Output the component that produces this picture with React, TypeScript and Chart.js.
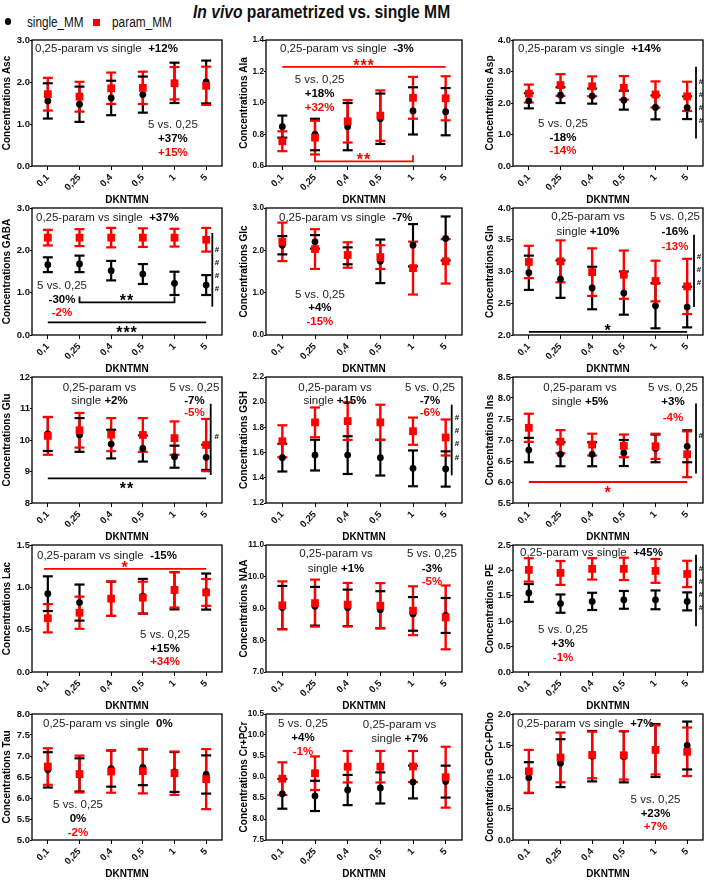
import React, { useEffect, useRef } from 'react';
import { Chart, registerables } from 'chart.js';

Chart.register(...registerables);

const FONT = '"Liberation Sans", Arial, Helvetica, sans-serif';
Chart.defaults.font.family = FONT;

const RED = '#ff0000';
const BLACK = '#000000';
const TXT = '#222222';

// x categories (DKNTMN)
const doses = ['0,1', '0,25', '0,4', '0,5', '1', '5'];

// ---- data: mean and SD per dose, single_MM (black) and param_MM (red) ----
const ascSingle = [1.55, 1.47, 1.62, 1.7, 1.98, 2.0];
const ascSingleSd = [0.42, 0.42, 0.41, 0.43, 0.48, 0.51];
const ascParam = [1.71, 1.65, 1.85, 1.86, 1.97, 1.91];
const ascParamSd = [0.39, 0.355, 0.375, 0.385, 0.385, 0.455];

const alaSingle = [0.85, 0.8, 0.85, 0.9, 0.95, 0.945];
const alaSingleSd = [0.07, 0.1, 0.15, 0.16, 0.15, 0.15];
const alaParam = [0.757, 0.78, 0.884, 0.92, 1.033, 1.03];
const alaParamSd = [0.063, 0.107, 0.135, 0.16, 0.133, 0.14];

const aspSingle = [2.07, 2.25, 2.22, 2.09, 1.86, 1.85];
const aspSingleSd = [0.24, 0.25, 0.24, 0.3, 0.38, 0.36];
const aspParam = [2.3, 2.57, 2.53, 2.48, 2.27, 2.21];
const aspParamSd = [0.285, 0.345, 0.315, 0.375, 0.415, 0.465];

const gabaSingle = [1.66, 1.68, 1.52, 1.44, 1.22, 1.18];
const gabaSingleSd = [0.175, 0.195, 0.23, 0.235, 0.275, 0.235];
const gabaParam = [2.3, 2.3, 2.3, 2.3, 2.3, 2.25];
const gabaParamSd = [0.185, 0.2, 0.23, 0.22, 0.21, 0.28];

const glcSingle = [2.12, 2.2, 1.87, 1.74, 2.12, 2.28];
const glcSingleSd = [0.215, 0.16, 0.2, 0.515, 0.5, 0.52];
const glcParam = [2.2, 2.03, 1.89, 1.84, 1.58, 1.74];
const glcParamSd = [0.455, 0.47, 0.3, 0.28, 0.625, 0.525];

const glnSingle = [2.98, 2.88, 2.74, 2.66, 2.46, 2.44];
const glnSingleSd = [0.27, 0.295, 0.335, 0.34, 0.355, 0.32];
const glnParam = [3.15, 3.16, 2.99, 2.95, 2.85, 2.765];
const glnParamSd = [0.255, 0.33, 0.375, 0.38, 0.32, 0.435];

const gluSingle = [10.19, 10.16, 9.87, 9.73, 9.47, 9.45];
const gluSingleSd = [0.54, 0.535, 0.455, 0.415, 0.35, 0.4];
const gluParam = [10.13, 10.31, 10.17, 10.16, 10.06, 9.84];
const gluParamSd = [0.6, 0.55, 0.525, 0.535, 0.53, 0.83];

const gshSingle = [1.56, 1.58, 1.58, 1.56, 1.475, 1.47];
const gshSingleSd = [0.11, 0.122, 0.15, 0.142, 0.142, 0.14];
const gshParam = [1.69, 1.84, 1.85, 1.84, 1.77, 1.72];
const gshParamSd = [0.127, 0.118, 0.15, 0.14, 0.108, 0.143];

const insSingle = [6.76, 6.66, 6.66, 6.69, 6.8, 6.85];
const insSingleSd = [0.29, 0.285, 0.285, 0.31, 0.33, 0.38];
const insParam = [7.29, 6.96, 6.89, 6.86, 6.85, 6.66];
const insParamSd = [0.335, 0.275, 0.26, 0.27, 0.3, 0.545];

const lacSingle = [0.925, 0.82, 0.865, 0.895, 0.96, 0.95];
const lacSingleSd = [0.205, 0.213, 0.203, 0.205, 0.22, 0.213];
const lacParam = [0.635, 0.7, 0.866, 0.878, 0.97, 0.94];
const lacParamSd = [0.167, 0.19, 0.203, 0.188, 0.208, 0.158];

const naaSingle = [9.03, 9.07, 9.02, 8.96, 8.83, 8.78];
const naaSingleSd = [0.68, 0.61, 0.575, 0.585, 0.53, 0.55];
const naaParam = [9.1, 9.17, 9.12, 9.09, 8.93, 8.72];
const naaParamSd = [0.755, 0.74, 0.685, 0.71, 0.77, 1.005];

const peSingle = [1.556, 1.346, 1.39, 1.42, 1.42, 1.39];
const peSingleSd = [0.175, 0.18, 0.17, 0.175, 0.185, 0.177];
const peParam = [2.01, 1.95, 2.03, 2.03, 1.99, 1.93];
const peParamSd = [0.23, 0.235, 0.21, 0.22, 0.235, 0.26];

const tauSingle = [6.67, 6.55, 6.7, 6.73, 6.62, 6.56];
const tauSingleSd = [0.42, 0.395, 0.43, 0.425, 0.475, 0.455];
const tauParam = [6.75, 6.57, 6.63, 6.64, 6.59, 6.45];
const tauParamSd = [0.435, 0.44, 0.505, 0.53, 0.515, 0.715];

const crSingle = [8.6, 8.55, 8.69, 8.74, 8.88, 8.89];
const crSingleSd = [0.355, 0.36, 0.36, 0.37, 0.39, 0.38];
const crParam = [8.96, 9.09, 9.245, 9.245, 9.25, 8.995];
const crParamSd = [0.39, 0.4, 0.375, 0.375, 0.37, 0.725];

const gpcSingle = [0.99, 1.22, 1.33, 1.32, 1.42, 1.5];
const gpcSingleSd = [0.245, 0.38, 0.4, 0.405, 0.42, 0.38];
const gpcParam = [1.09, 1.31, 1.35, 1.345, 1.43, 1.4];
const gpcParamSd = [0.34, 0.395, 0.37, 0.385, 0.39, 0.385];

// ---- annotation helpers (positions in data units: x = category index, y = value) ----
type Part = { t: string; b?: boolean; c?: string };
type Txt = { x: number; y: number; parts: Part[]; align: 'left' | 'center' };
type Sig = { x1: number; x2: number; y: number; color: string; stars: string; below?: boolean; ends?: boolean };
type Hash = { x: number; y1: number; y2: number; hx: number; marks: number[] };

const hdr = (x: number, y: number, pct: string): Txt[] => [
  { x, y, align: 'left', parts: [{ t: '0,25-param vs single  ' }, { t: pct, b: true }] },
];
const hdr2 = (x: number, y0: number, y1: number, pct: string): Txt[] => [
  { x, y: y0, align: 'center', parts: [{ t: '0,25-param vs' }] },
  { x, y: y1, align: 'center', parts: [{ t: 'single ' }, { t: pct, b: true }] },
];
const cmp = (x: number, y0: number, y1: number, y2: number, s: string, p: string): Txt[] => [
  { x, y: y0, align: 'center', parts: [{ t: '5 vs. 0,25' }] },
  { x, y: y1, align: 'center', parts: [{ t: s, b: true }] },
  { x, y: y2, align: 'center', parts: [{ t: p, b: true, c: RED }] },
];

type PanelCfg = {
  name: string;
  min: number; max: number; step: number; dec: number;
  single: number[]; singleSd: number[]; param: number[]; paramSd: number[];
  texts: Txt[]; sigs?: Sig[]; hash?: Hash;
};

const panels: PanelCfg[] = [
  {
    name: 'Asc', min: 0, max: 3, step: 1, dec: 1,
    single: ascSingle, singleSd: ascSingleSd, param: ascParam, paramSd: ascParamSd,
    texts: [...hdr(-0.405, 2.786, '+12%'), ...cmp(3.95, 0.976, 0.643, 0.31, '+37%', '+15%')],
  },
  {
    name: 'Ala', min: 0.6, max: 1.4, step: 0.2, dec: 1,
    single: alaSingle, singleSd: alaSingleSd, param: alaParam, paramSd: alaParamSd,
    texts: [...hdr(-0.071, 1.343, '-3%'), ...cmp(1.14, 1.146, 1.057, 0.968, '+18%', '+32%')],
    sigs: [
      { x1: 0, x2: 5, y: 1.23, color: RED, stars: '***' },
      { x1: 1, x2: 4, y: 0.63, color: RED, stars: '**', ends: true },
    ],
  },
  {
    name: 'Asp', min: 0, max: 4, step: 1, dec: 1,
    single: aspSingle, singleSd: aspSingleSd, param: aspParam, paramSd: aspParamSd,
    texts: [...hdr(-0.342, 3.714, '+14%'), ...cmp(1.08, 1.333, 0.889, 0.476, '-18%', '-14%')],
    hash: { x: 5.279, y1: 3.15, y2: 0.87, hx: 5.437, marks: [2.67, 2.25, 1.85, 1.42] },
  },
  {
    name: 'GABA', min: 0, max: 3, step: 1, dec: 1,
    single: gabaSingle, singleSd: gabaSingleSd, param: gabaParam, paramSd: gabaParamSd,
    texts: [...hdr(-0.374, 2.764, '+37%'), ...cmp(0.447, 1.157, 0.827, 0.52, '-30%', '-2%')],
    sigs: [
      { x1: 1, x2: 4, y: 0.77, color: BLACK, stars: '**', ends: true },
      { x1: 0, x2: 5, y: 0.3, color: BLACK, stars: '***', below: true },
    ],
    hash: { x: 5.194, y1: 2.41, y2: 0.67, hx: 5.34, marks: [2.01, 1.7, 1.4, 1.08] },
  },
  {
    name: 'Glc', min: 0, max: 3, step: 1, dec: 1,
    single: glcSingle, singleSd: glcSingleSd, param: glcParam, paramSd: glcParamSd,
    texts: [...hdr(-0.102, 2.764, '-7%'), ...cmp(1.15, 0.945, 0.638, 0.307, '+4%', '-15%')],
  },
  {
    name: 'Gln', min: 2, max: 4, step: 0.5, dec: 1,
    single: glnSingle, singleSd: glnSingleSd, param: glnParam, paramSd: glnParamSd,
    texts: [...hdr2(1.87, 3.858, 3.622, '+10%'), ...cmp(4.616, 3.858, 3.622, 3.386, '-16%', '-13%')],
    sigs: [{ x1: 0, x2: 5, y: 2.05, color: BLACK, stars: '*' }],
    hash: { x: 5.216, y1: 3.58, y2: 2.44, hx: 5.374, marks: [3.23, 3.02, 2.82] },
  },
  {
    name: 'Glu', min: 8, max: 12, step: 1, dec: 0,
    single: gluSingle, singleSd: gluSingleSd, param: gluParam, paramSd: gluParamSd,
    texts: [...hdr2(1.63, 11.651, 11.238, '+2%'), ...cmp(4.63, 11.651, 11.238, 10.857, '-7%', '-5%')],
    sigs: [{ x1: 0, x2: 5, y: 8.78, color: BLACK, stars: '**', below: true }],
    hash: { x: 5.143, y1: 11.15, y2: 8.89, hx: 5.33, marks: [10.11] },
  },
  {
    name: 'GSH', min: 1.2, max: 2.2, step: 0.2, dec: 1,
    single: gshSingle, singleSd: gshSingleSd, param: gshParam, paramSd: gshParamSd,
    texts: [...hdr2(1.612, 2.113, 2.01, '+15%'), ...cmp(4.52, 2.113, 2.01, 1.914, '-7%', '-6%')],
    hash: { x: 5.185, y1: 1.98, y2: 1.42, hx: 5.347, marks: [1.875, 1.773, 1.67, 1.56] },
  },
  {
    name: 'Ins', min: 5.5, max: 8.5, step: 0.5, dec: 1,
    single: insSingle, singleSd: insSingleSd, param: insParam, paramSd: insParamSd,
    texts: [...hdr2(1.616, 8.238, 7.905, '+5%'), ...cmp(4.553, 8.238, 7.905, 7.524, '+3%', '-4%')],
    sigs: [{ x1: 0, x2: 5, y: 6.0, color: RED, stars: '*', below: true }],
    hash: { x: 5.279, y1: 7.87, y2: 6.2, hx: 5.43, marks: [7.1] },
  },
  {
    name: 'Lac', min: 0, max: 1.5, step: 0.5, dec: 1,
    single: lacSingle, singleSd: lacSingleSd, param: lacParam, paramSd: lacParamSd,
    texts: [...hdr(-0.342, 1.37, '-15%'), ...cmp(3.7, 0.437, 0.272, 0.118, '+15%', '+34%')],
    sigs: [{ x1: -0.12, x2: 5, y: 1.217, color: RED, stars: '*' }],
  },
  {
    name: 'NAA', min: 7, max: 11, step: 1, dec: 1,
    single: naaSingle, singleSd: naaSingleSd, param: naaParam, paramSd: naaParamSd,
    texts: [...hdr2(1.643, 10.717, 10.244, '+1%'), ...cmp(4.58, 10.717, 10.244, 9.835, '-3%', '-5%')],
  },
  {
    name: 'PE', min: 0, max: 2.5, step: 0.5, dec: 1,
    single: peSingle, singleSd: peSingleSd, param: peParam, paramSd: peParamSd,
    texts: [...hdr(-0.279, 2.343, '+45%'), ...cmp(1.08, 0.827, 0.551, 0.276, '+3%', '-1%')],
    hash: { x: 5.279, y1: 2.31, y2: 0.9, hx: 5.437, marks: [2.03, 1.78, 1.52, 1.26] },
  },
  {
    name: 'Tau', min: 5, max: 8, step: 0.5, dec: 1,
    single: tauSingle, singleSd: tauSingleSd, param: tauParam, paramSd: tauParamSd,
    texts: [...hdr(-0.153, 7.762, '0%'), ...cmp(0.953, 5.833, 5.5, 5.167, '0%', '-2%')],
  },
  {
    name: 'Cr+PCr', min: 7.5, max: 10.5, step: 0.5, dec: 1,
    single: crSingle, singleSd: crSingleSd, param: crParam, paramSd: crParamSd,
    texts: [...cmp(0.633, 10.262, 9.929, 9.595, '+4%', '-1%'), ...hdr2(3.59, 10.238, 9.905, '+7%')],
  },
  {
    name: 'GPC+PCho', min: 0, max: 2, step: 0.5, dec: 1,
    single: gpcSingle, singleSd: gpcSingleSd, param: gpcParam, paramSd: gpcParamSd,
    texts: [...hdr(-0.374, 1.841, '+7%'), ...cmp(4.0, 0.635, 0.413, 0.206, '+23%', '+7%')],
  },
];

// ---- layout of the 5x3 grid ----
const COLS = [
  { left: 0, width: 236, yW: 32, right: 14, tPad: 1.0, tick: 9.5 },
  { left: 236, width: 236, yW: 30, right: 10, tPad: 2.5, tick: 8.3 },
  { left: 472, width: 237, yW: 41, right: 6, tPad: 12.5, tick: 9.5 },
];
const ROWS = [
  { top: 40, h: 126 },
  { top: 208, h: 127 },
  { top: 377, h: 126 },
  { top: 545, h: 127 },
  { top: 714, h: 126 },
];
const PAD_TOP = 8;
const X_AXIS_H = 40;

function drawParts(ctx: CanvasRenderingContext2D, parts: Part[], x: number, y: number, align: string) {
  const size = 11.5;
  const fonts = parts.map((p) => `${p.b ? 'bold ' : ''}${size}px ${FONT}`);
  const widths = parts.map((p, i) => {
    ctx.font = fonts[i];
    return ctx.measureText(p.t).width;
  });
  const total = widths.reduce((a, b) => a + b, 0);
  let cx = align === 'center' ? x - total / 2 : x;
  ctx.textAlign = 'left';
  ctx.textBaseline = 'middle';
  parts.forEach((p, i) => {
    ctx.font = fonts[i];
    ctx.fillStyle = p.c || (p.b ? BLACK : TXT);
    ctx.fillText(p.t, cx, y);
    cx += widths[i];
  });
}

function makeOverlay(p: PanelCfg) {
  return {
    id: 'overlay',
    beforeDatasetsDraw(chart: any) {
      const ctx: CanvasRenderingContext2D = chart.ctx;
      const xs = chart.scales.x;
      const ys = chart.scales.y;
      const series = [
        { m: p.single, s: p.singleSd, c: BLACK, w: 2.2 },
        { m: p.param, s: p.paramSd, c: RED, w: 2.4 },
      ];
      ctx.save();
      ctx.lineCap = 'butt';
      for (const sr of series) {
        ctx.strokeStyle = sr.c;
        ctx.lineWidth = sr.w;
        sr.m.forEach((m, i) => {
          const px = xs.getPixelForValue(i);
          ctx.beginPath();
          ctx.moveTo(px, ys.getPixelForValue(m + sr.s[i]));
          ctx.lineTo(px, ys.getPixelForValue(m - sr.s[i]));
          ctx.stroke();
        });
      }
      for (const sr of series) {
        ctx.strokeStyle = sr.c;
        ctx.lineWidth = 2.2;
        sr.m.forEach((m, i) => {
          const px = xs.getPixelForValue(i);
          for (const v of [m + sr.s[i], m - sr.s[i]]) {
            const py = ys.getPixelForValue(v);
            ctx.beginPath();
            ctx.moveTo(px - 5, py);
            ctx.lineTo(px + 5, py);
            ctx.stroke();
          }
        });
      }
      ctx.restore();
    },
    afterDatasetsDraw(chart: any) {
      const ctx: CanvasRenderingContext2D = chart.ctx;
      const a = chart.chartArea;
      const xs = chart.scales.x;
      const ys = chart.scales.y;
      ctx.save();
      // frame
      ctx.strokeStyle = BLACK;
      ctx.lineWidth = 1.3;
      ctx.strokeRect(a.left, a.top, a.right - a.left, a.bottom - a.top);
      // significance lines
      for (const s of p.sigs || []) {
        const x1 = xs.getPixelForValue(s.x1);
        const x2 = xs.getPixelForValue(s.x2);
        const y = ys.getPixelForValue(s.y);
        ctx.strokeStyle = s.color;
        ctx.lineWidth = 1.8;
        ctx.beginPath();
        if (s.ends) {
          ctx.moveTo(x1, y - 6);
          ctx.lineTo(x1, y);
          ctx.lineTo(x2, y);
          ctx.lineTo(x2, y - 6);
        } else {
          ctx.moveTo(x1, y);
          ctx.lineTo(x2, y);
        }
        ctx.stroke();
        ctx.fillStyle = s.color;
        ctx.font = `bold 16px ${FONT}`;
        (ctx as any).letterSpacing = '1px';
        ctx.textAlign = 'center';
        ctx.textBaseline = 'alphabetic';
        ctx.fillText(s.stars, (x1 + x2) / 2, s.below ? y + 16 : y + 4);
        (ctx as any).letterSpacing = '0px';
      }
      // # markers
      if (p.hash) {
        const h = p.hash;
        const hx = xs.getPixelForValue(h.x);
        ctx.strokeStyle = BLACK;
        ctx.lineWidth = 1.8;
        ctx.beginPath();
        ctx.moveTo(hx, ys.getPixelForValue(h.y1));
        ctx.lineTo(hx, ys.getPixelForValue(h.y2));
        ctx.stroke();
        ctx.fillStyle = BLACK;
        ctx.font = `bold 8px ${FONT}`;
        ctx.textAlign = 'center';
        ctx.textBaseline = 'middle';
        const mx = xs.getPixelForValue(h.hx);
        for (const v of h.marks) ctx.fillText('#', mx, ys.getPixelForValue(v));
      }
      // texts
      for (const t of p.texts) {
        drawParts(ctx, t.parts, xs.getPixelForValue(t.x), ys.getPixelForValue(t.y), t.align);
      }
      ctx.restore();
    },
  };
}

function Panel({ cfg, col, row }: { cfg: PanelCfg; col: number; row: number }) {
  const ref = useRef<HTMLCanvasElement>(null);
  const C = COLS[col];
  const R = ROWS[row];
  const w = C.width;
  const h = PAD_TOP + R.h + X_AXIS_H;
  useEffect(() => {
    if (!ref.current) return;
    const chart = new Chart(ref.current, {
      type: 'line',
      data: {
        labels: doses,
        datasets: [
          {
            label: 'param_MM',
            data: cfg.param,
            showLine: false,
            pointStyle: 'rect',
            pointRadius: 5.5,
            pointBackgroundColor: RED,
            pointBorderColor: RED,
            pointBorderWidth: 0,
            order: 0,
            clip: false,
          },
          {
            label: 'single_MM',
            data: cfg.single,
            showLine: false,
            pointStyle: 'circle',
            pointRadius: 3.4,
            pointBackgroundColor: BLACK,
            pointBorderColor: BLACK,
            pointBorderWidth: 0,
            order: 1,
            clip: false,
          },
        ],
      } as any,
      options: {
        responsive: false,
        animation: false,
        events: [],
        layout: { padding: { top: PAD_TOP, right: C.right, bottom: 0, left: 0 } },
        plugins: { legend: { display: false }, tooltip: { enabled: false }, title: { display: false } },
        scales: {
          x: {
            type: 'category',
            offset: true,
            grid: { display: true, drawOnChartArea: false, drawTicks: true, tickLength: 4, color: BLACK, lineWidth: 1 },
            border: { display: false },
            ticks: {
              color: '#111',
              font: { size: 9.5, weight: 'bold' },
              minRotation: 45,
              maxRotation: 45,
              padding: 2,
              autoSkip: false,
            },
            title: { display: true, text: 'DKNTMN', color: BLACK, font: { size: 10, weight: 'bold' }, padding: 0 },
            afterFit: (s: any) => {
              s.height = X_AXIS_H;
            },
          },
          y: {
            type: 'linear',
            min: cfg.min,
            max: cfg.max,
            grid: { display: true, drawOnChartArea: false, drawTicks: true, tickLength: 2, color: BLACK, lineWidth: 1 },
            border: { display: false },
            ticks: {
              stepSize: cfg.step,
              color: '#111',
              font: { size: C.tick, weight: 'bold' },
              padding: 0,
              callback: (v: any) => Number(v).toFixed(cfg.dec),
            },
            title: {
              display: true,
              text: 'Concentrations ' + cfg.name,
              color: BLACK,
              font: { size: 10, weight: 'bold' },
              padding: { top: C.tPad, bottom: 0 },
            },
            afterFit: (s: any) => {
              s.width = C.yW;
            },
          },
        },
      } as any,
      plugins: [makeOverlay(cfg) as any],
    });
    return () => chart.destroy();
  }, []);
  return (
    <canvas
      ref={ref}
      width={w}
      height={h}
      style={{ position: 'absolute', left: C.left, top: R.top - PAD_TOP, width: w, height: h }}
    />
  );
}

export default function App() {
  return (
    <div
      style={{
        position: 'absolute',
        left: 0,
        top: 0,
        width: 709,
        height: 881,
        background: '#fff',
        overflow: 'hidden',
        fontFamily: FONT,
      }}
    >
      {/* legend */}
      <div style={{ position: 'absolute', left: 4.7, top: 18.4, width: 6.6, height: 6.6, borderRadius: '50%', background: BLACK }} />
      <div
        style={{
          position: 'absolute', left: 27, top: 13, fontSize: 15.4, lineHeight: '18px', color: '#111',
          whiteSpace: 'nowrap', transform: 'scaleX(0.76)', transformOrigin: 'left top',
        }}
      >
        single_MM
      </div>
      <div style={{ position: 'absolute', left: 92.5, top: 18.5, width: 7, height: 7, background: RED }} />
      <div
        style={{
          position: 'absolute', left: 112, top: 13, fontSize: 15.4, lineHeight: '18px', color: '#111',
          whiteSpace: 'nowrap', transform: 'scaleX(0.77)', transformOrigin: 'left top',
        }}
      >
        param_MM
      </div>
      {/* title */}
      <div
        style={{
          position: 'absolute', left: 193, top: 1, fontSize: 18.5, lineHeight: '22px', fontWeight: 'bold',
          color: '#111', whiteSpace: 'nowrap', transform: 'scaleX(0.845)', transformOrigin: 'left top',
        }}
      >
        <i>In vivo</i> parametrized vs. single MM
      </div>
      {panels.map((p, i) => (
        <Panel key={p.name} cfg={p} col={i % 3} row={Math.floor(i / 3)} />
      ))}
    </div>
  );
}
